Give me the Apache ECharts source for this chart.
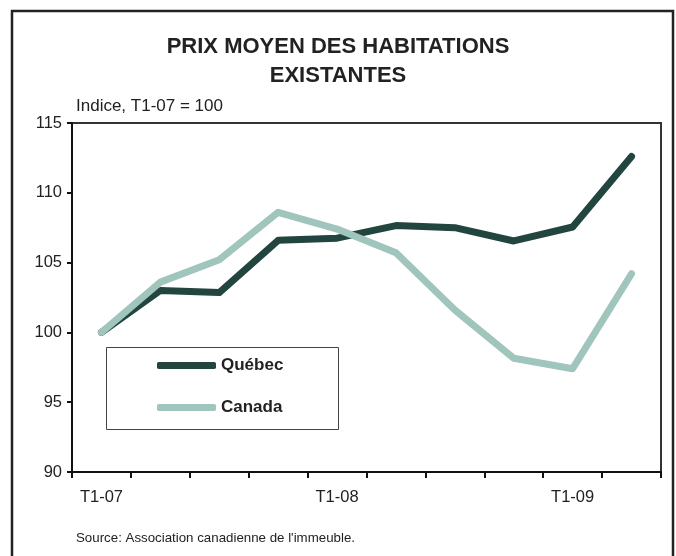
<!DOCTYPE html>
<html>
<head>
<meta charset="utf-8">
<script src="https://cdn.jsdelivr.net/npm/echarts@6/dist/echarts.min.js"></script>
<style>
  html, body { margin: 0; padding: 0; background: #fff; }
  #chart { width: 676px; height: 556px; }
</style>
</head>
<body>
<div id="chart"></div>
<script>
// trimestres T1-07 .. T2-09
var quarters = ['T1-07', 'T2-07', 'T3-07', 'T4-07', 'T1-08', 'T2-08', 'T3-08', 'T4-08', 'T1-09', 'T2-09']
var quebec = [100, 103.0, 102.85, 106.6, 106.75, 107.65, 107.5, 106.55, 107.55, 112.6]
var canada = [100, 103.6, 105.2, 108.6, 107.4, 105.7, 101.6, 98.15, 97.4, 104.2]
var yTicks = { min: 90, max: 115, step: 5 }

var font = 'Liberation Sans, Arial, Helvetica, sans-serif'

var chart = echarts.init(document.getElementById('chart'))
chart.setOption({
  animation: false,
  textStyle: { fontFamily: font },
  title: {
    text: 'PRIX MOYEN DES HABITATIONS\nEXISTANTES',
    left: 'center',
    top: 32,
    padding: 0,
    textStyle: { fontSize: 22, fontWeight: 'bold', color: '#222', lineHeight: 29, fontFamily: font }
  },
  graphic: [
    {
      type: 'rect',
      shape: { x: 12, y: 11, width: 661, height: 560 },
      style: { fill: 'none', stroke: '#222', lineWidth: 2.5 },
      z: 0
    },
    {
      type: 'rect',
      shape: { x: 106.5, y: 347.5, width: 232, height: 82 },
      style: { fill: '#fff', stroke: '#444', lineWidth: 1 },
      z: 10
    },
    {
      type: 'text',
      left: 76,
      top: 532,
      style: { text: "Source: Association canadienne de l'immeuble.", font: '13.3px ' + font, fill: '#222' }
    }
  ],
  legend: {
    orient: 'vertical',
    left: 157,
    top: 357,
    padding: 0,
    itemWidth: 59,
    itemHeight: 7,
    itemGap: 25,
    icon: 'roundRect',
    z: 20,
    textStyle: { fontSize: 17, fontWeight: 'bold', color: '#222' },
    data: ['Québec', 'Canada']
  },
  grid: {
    left: 72,
    right: 15,
    top: 123,
    bottom: 84,
    show: true,
    borderColor: '#333',
    borderWidth: 2
  },
  xAxis: {
    type: 'category',
    data: quarters,
    boundaryGap: true,
    axisLine: { lineStyle: { color: '#111', width: 2 } },
    axisTick: { show: true, interval: 0, length: 6, lineStyle: { color: '#111', width: 2 } },
    axisLabel: {
      interval: function (i) { return i % 4 === 0 },
      margin: 17,
      fontSize: 16.5,
      color: '#222'
    },
    splitLine: { show: false }
  },
  yAxis: {
    type: 'value',
    min: yTicks.min,
    max: yTicks.max,
    interval: yTicks.step,
    name: 'Indice, T1-07 = 100',
    nameLocation: 'end',
    nameGap: 8,
    nameTextStyle: { fontSize: 17, color: '#222', align: 'left', padding: [0, 0, 0, 4] },
    axisLine: { show: true, lineStyle: { color: '#111', width: 2 } },
    axisTick: { show: true, length: 5, lineStyle: { color: '#111', width: 2 } },
    axisLabel: { fontSize: 16.5, color: '#222', margin: 10 },
    splitLine: { show: false }
  },
  series: [
    {
      name: 'Canada',
      type: 'line',
      data: canada,
      symbol: 'none',
      itemStyle: { color: '#a0c5bc' },
      lineStyle: { color: '#a0c5bc', width: 7, cap: 'round', join: 'round' },
      z: 3
    },
    {
      name: 'Québec',
      type: 'line',
      data: quebec,
      symbol: 'none',
      itemStyle: { color: '#23453f' },
      lineStyle: { color: '#23453f', width: 7, cap: 'round', join: 'round' },
      z: 2
    }
  ]
})
</script>
</body>
</html>
